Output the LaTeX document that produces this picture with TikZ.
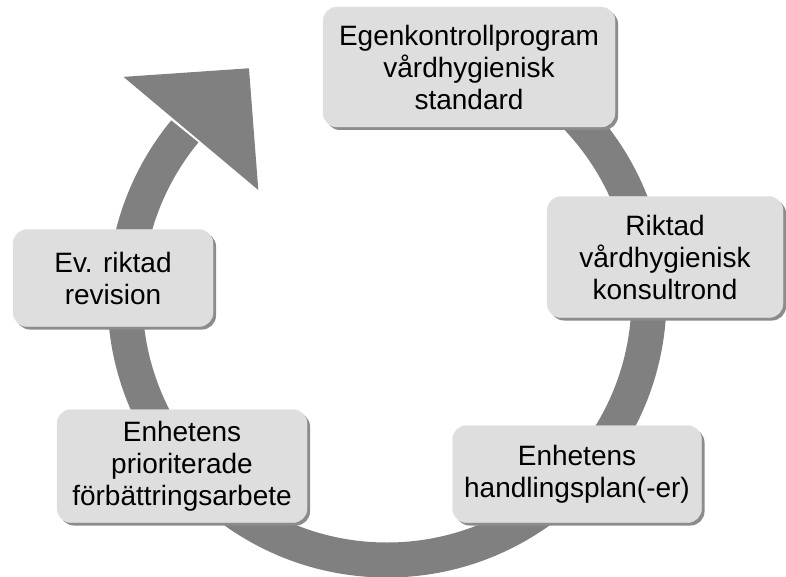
\documentclass[tikz,border=0pt]{standalone}
\usepackage{fontspec}
\setmainfont{Liberation Sans}
\usepackage{xcolor}
\definecolor{ringgray}{RGB}{128,128,128}
\definecolor{boxgray}{RGB}{222,222,222}
\definecolor{shadowgray}{RGB}{140,140,140}
\usepackage{tikz}
\usetikzlibrary{shadows,calc}

\begin{document}
\begin{tikzpicture}[x=1pt,y=1pt]
	\useasboundingbox (0,0) rectangle (786,576);

	% the ring with its arrow head
	\coordinate (mid) at (387,278);
	\begin{scope}[ringgray]
	    \draw[line width=35pt] ($(mid)+(90:262)$) arc[start angle=90, end angle=-219.5, radius=262];
	    \fill ($(mid)+(140:344)$) -- ($(mid)+(121:268)$) -- ($(mid)+(140:168)$) -- cycle;
	\end{scope}

	\begin{scope}[every node/.style={fill=boxgray,draw=gray!20,thin,rounded corners=14pt,
	                                 align=center,inner sep=0pt,
	                                 font=\fontsize{28}{32}\selectfont,
	                                 drop shadow={shadow xshift=3pt,shadow yshift=-3pt,fill=shadowgray,opacity=1}}]
	    \node (egen) [minimum width=292pt, minimum height=120pt] at (469,509) {Egenkontrollprogram\\vårdhygienisk\\standard};
	    \node (rikt) [minimum width=236pt, minimum height=121pt] at (665,319) {Riktad\\vårdhygienisk\\konsultrond};
	    \node (hand) [minimum width=249pt, minimum height=97pt] at (577,102) {Enhetens\\handlingsplan(-er)};
	    \node (prio) [minimum width=250pt, minimum height=113pt] at (182,110) {Enhetens\\prioriterade\\förbättringsarbete};
	    \node (rev) [minimum width=200pt, minimum height=97pt] at (113,298) {Ev. riktad\\revision};
	\end{scope}
\end{tikzpicture}
\end{document}
